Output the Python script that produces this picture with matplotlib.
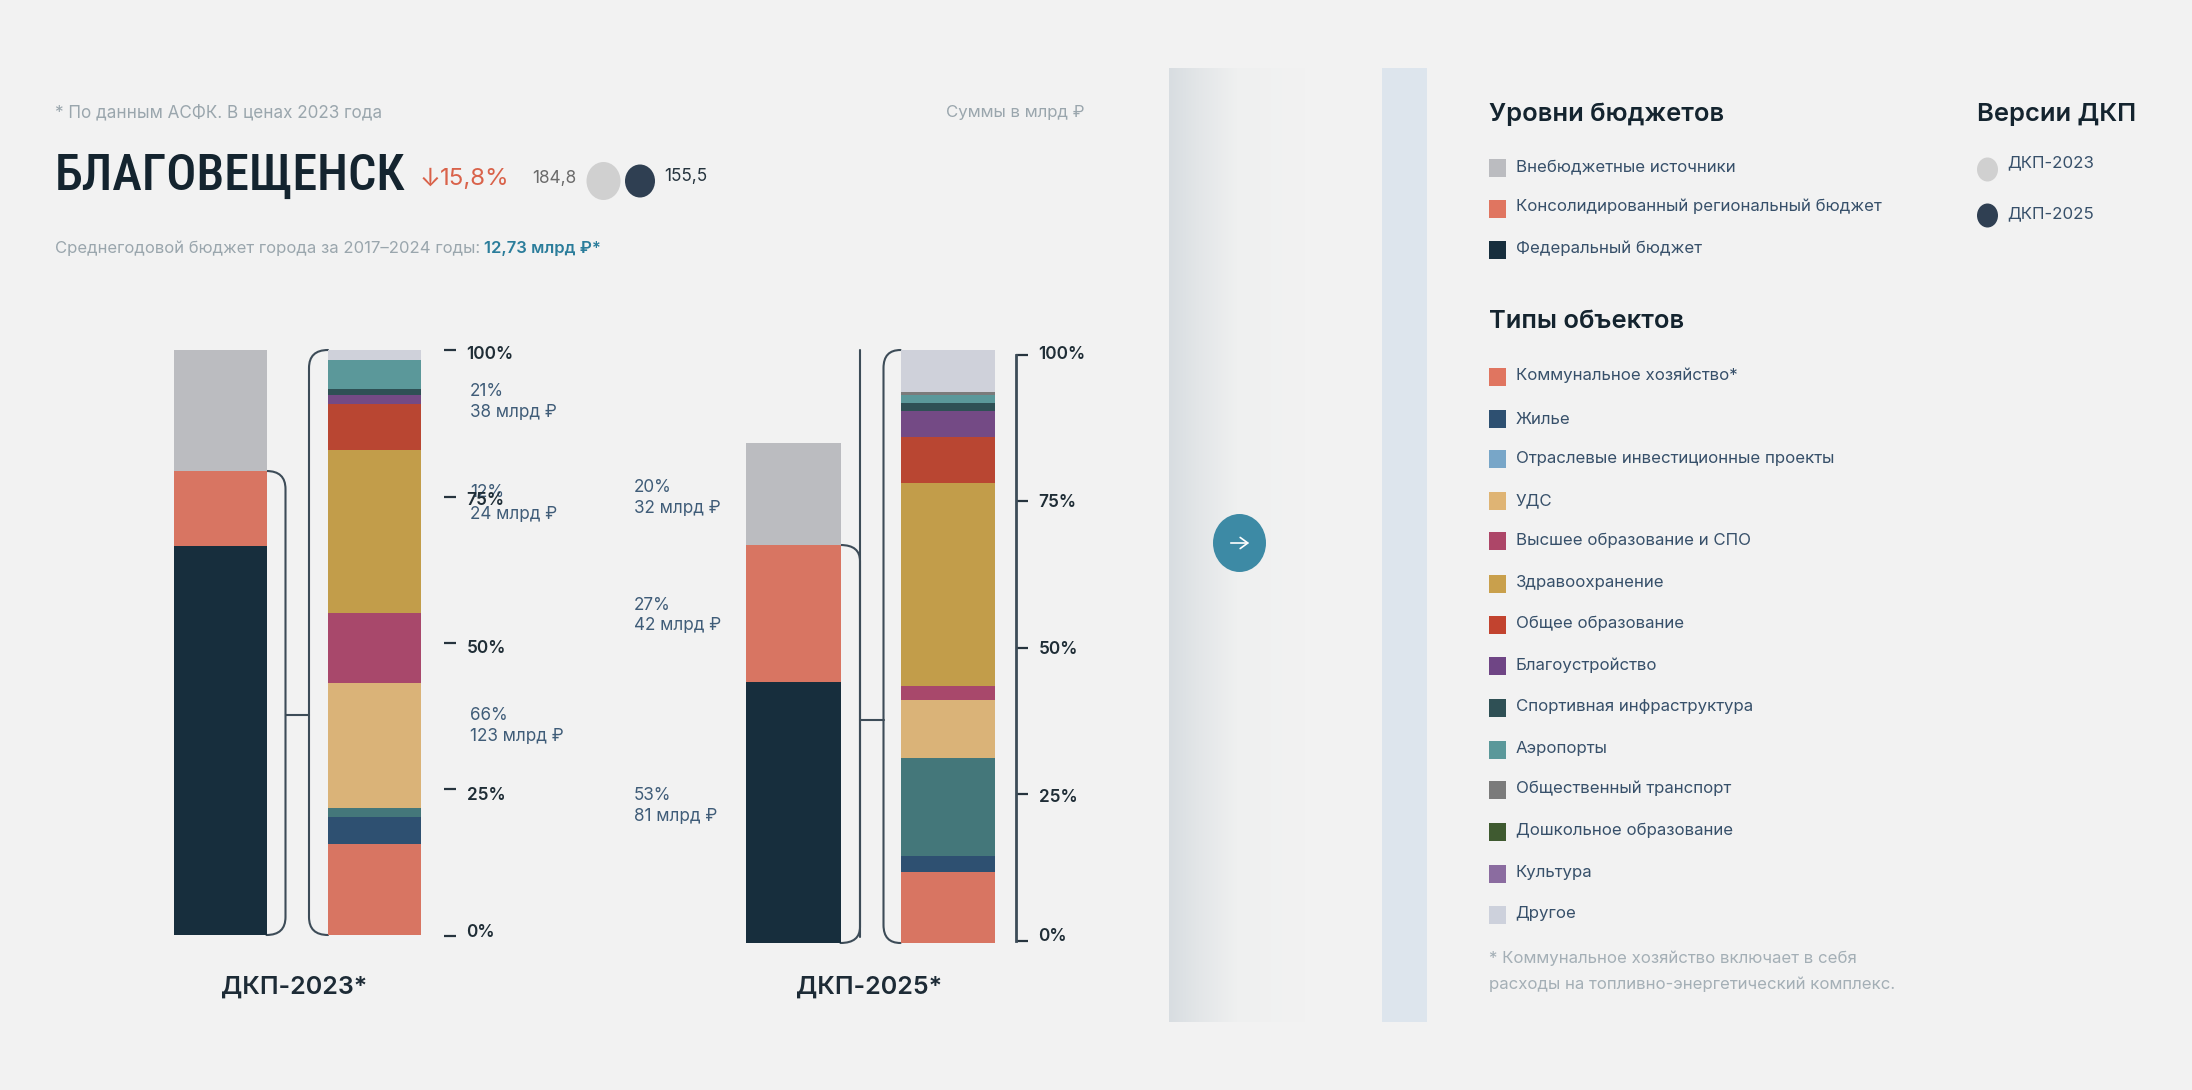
import matplotlib
matplotlib.use("Agg")
import matplotlib.pyplot as plt
import numpy as np
from matplotlib.colors import LinearSegmentedColormap
from matplotlib.patches import Rectangle, Ellipse, PathPatch
from matplotlib.path import Path
from matplotlib.transforms import ScaledTranslation

W, H, DPI = 2192, 1090, 100
BG = "#f2f2f2"
FONT = ["Inter", "DejaVu Sans"]
NARROW = ["Roboto Condensed", "Inter", "DejaVu Sans"]
plt.rcParams["font.family"] = FONT

# ---------- data ----------
budget_levels = ["Федеральный бюджет", "Консолидированный региональный бюджет", "Внебюджетные источники"]
budget_colors = ["#172e3d", "#d87562", "#bbbcc0"]
budget_2023 = [122.8, 23.6, 38.4]
budget_2025 = [81.4, 42.5, 31.6]
budget_labels_2023 = [("66%", "123 млрд ₽"), ("12%", "24 млрд ₽"), ("21%", "38 млрд ₽")]
budget_labels_2025 = [("53%", "81 млрд ₽"), ("27%", "42 млрд ₽"), ("20%", "32 млрд ₽")]

objects_2023 = ["Коммунальное хозяйство*", "Жилье", "Отраслевые*", "УДС", "Высшее образование и СПО",
                "Здравоохранение", "Общее образование", "Благоустройство", "Спортивная инфраструктура",
                "Аэропорты", "Другое"]
shares_2023 = [15.56, 4.67, 1.48, 21.4, 11.93, 27.78, 7.93, 1.48, 0.96, 5.04, 1.77]
colors_2023 = ["#d87562", "#2e5071", "#44777a", "#dab378", "#a8486b", "#c29d4a", "#b94632", "#744a85",
               "#2f5055", "#5b989a", "#cfd1da"]

objects_2025 = ["Коммунальное хозяйство*", "Жилье", "Отраслевые*", "УДС", "Высшее образование и СПО",
                "Здравоохранение", "Общее образование", "Благоустройство", "Спортивная инфраструктура",
                "Аэропорты", "Общественный транспорт", "Другое"]
shares_2025 = [11.98, 2.70, 16.44, 9.86, 2.34, 34.26, 7.6, 4.53, 1.31, 1.31, 0.51, 7.16]
colors_2025 = ["#d87562", "#2e5071", "#44777a", "#dab378", "#a8486b", "#c29d4a", "#b94632", "#744a85",
               "#2f5055", "#5b989a", "#7b7b7b", "#cfd1da"]

percent_ticks = [0, 25, 50, 75, 100]
percent_labels = ["0%", "25%", "50%", "75%", "100%"]

legend_levels = ["Внебюджетные источники", "Консолидированный региональный бюджет", "Федеральный бюджет"]
legend_level_colors = ["#bbbcc0", "#e07560", "#172e3d"]
legend_types = ["Коммунальное хозяйство*", "Жилье", "Отраслевые инвестиционные проекты", "УДС",
                "Высшее образование и СПО", "Здравоохранение", "Общее образование", "Благоустройство",
                "Спортивная инфраструктура", "Аэропорты", "Общественный транспорт", "Дошкольное образование",
                "Культура", "Другое"]
legend_type_colors = ["#e07560", "#2e5071", "#78a6c8", "#dfb474", "#ad4668", "#c9a04c", "#c2432f", "#6f4585",
                      "#2f5055", "#5b989a", "#7b7b7b", "#3f5a30", "#8b6ca0", "#cdd1dc"]
legend_versions = ["ДКП-2023", "ДКП-2025"]
legend_version_colors = ["#d0d0d0", "#2f3f52"]

# ---------- figure ----------
fig = plt.figure(figsize=(W / DPI, H / DPI), dpi=DPI, facecolor=BG)
ov = fig.add_axes([0, 0, 1, 1], zorder=0)
ov.set_xlim(0, W)
ov.set_ylim(H, 0)
ov.axis("off")


def px_axes(x0, x1, ytop, ybot, z=2):
    return fig.add_axes([x0 / W, 1 - ybot / H, (x1 - x0) / W, (ybot - ytop) / H], zorder=z, facecolor="none")


def stack(x0, x1, ytop, ybot, values, colors):
    ax = px_axes(x0, x1, ytop, ybot)
    bottom = 0
    for v, c in zip(values, colors):
        ax.bar(0, v, bottom=bottom, width=1, color=c, linewidth=0)
        bottom += v
    ax.set_xlim(-0.5, 0.5)
    ax.set_ylim(0, bottom)
    ax.axis("off")
    return ax


stack(173.5, 266.5, 349.5, 935, budget_2023, budget_colors)
stack(328, 420.5, 349.5, 935, shares_2023, colors_2023)
stack(745.5, 840.5, 443.5, 943, budget_2025, budget_colors)
stack(900.5, 994.5, 349.5, 943, shares_2025, colors_2025)


def tick_axis(x, ytop, ybot, show_spine, dys):
    ax = px_axes(x - 1, x, ytop, ybot)
    ax.set_xlim(0, 1)
    ax.set_ylim(0, 100)
    for s in ("left", "top", "bottom"):
        ax.spines[s].set_visible(False)
    ax.spines["right"].set_visible(show_spine)
    ax.spines["right"].set_color("#3d4c58")
    ax.spines["right"].set_linewidth(2)
    ax.xaxis.set_visible(False)
    ax.yaxis.tick_right()
    ax.set_yticks(percent_ticks)
    ax.set_yticklabels(percent_labels)
    ax.tick_params(axis="y", length=8.6, width=1.6, color="#26343e", pad=7.6,
                   labelsize=12.4, labelcolor="#1f2d36")
    for lab, dy in zip(ax.get_yticklabels(), dys):
        lab.set_fontweight(600)
        lab.set_transform(lab.get_transform() + ScaledTranslation(0, -dy / DPI, fig.dpi_scale_trans))


tick_axis(444, 350.4, 935.8, False, [-5, 4, 3, 1.5, 2])
tick_axis(1016, 354.7, 940.6, True, [-6, 1, 0, -1, -2])

# panels
grad = np.linspace(0, 1, 256).reshape(1, -1)
cm = LinearSegmentedColormap.from_list("g", [(0, "#d8dde1"), (0.22, "#e3e6e8"), (0.5, "#eff0f0"), (1, BG)])
ov.imshow(grad, extent=(1169, 1305, 1022, 68), cmap=cm, aspect="auto", zorder=1)
ov.set_xlim(0, W)
ov.set_ylim(H, 0)
ov.add_patch(Rectangle((1381.5, 68), 45, 954, color="#dde5ed", lw=0, zorder=1))
ov.add_patch(Ellipse((1239.5, 543), 53, 58, color="#3d8aa5", lw=0, zorder=2))
ov.annotate("", xy=(1252, 543), xytext=(1228, 543),
            arrowprops=dict(arrowstyle="->,head_length=0.55,head_width=0.4", color="white", lw=1.2), zorder=3)

# brackets
LINE = "#3d4c58"
LW = 1.5


def draw_path(verts, codes):
    ov.add_patch(PathPatch(Path(verts, codes), fill=False, ec=LINE, lw=LW, zorder=3, capstyle="round"))


def bracket(x_bar, x_line, ytop, ybot, r=18):
    verts = [(x_bar, ytop), (x_line, ytop), (x_line, ytop + r), (x_line, ybot - r), (x_line, ybot), (x_bar, ybot)]
    codes = [Path.MOVETO, Path.CURVE3, Path.CURVE3, Path.LINETO, Path.CURVE3, Path.CURVE3]
    draw_path(verts, codes)


bracket(266.5, 285.5, 471, 935)
bracket(328, 309, 350, 935)
draw_path([(285.5, 714.5), (309, 714.5)], [Path.MOVETO, Path.LINETO])

draw_path([(860, 349.5), (860, 937)], [Path.MOVETO, Path.LINETO])
bracket(840.5, 860, 545, 943, r=16)
bracket(900.5, 883.5, 350, 943)
draw_path([(860, 719.5), (883.5, 719.5)], [Path.MOVETO, Path.LINETO])


def T(x, y, s, size, color, weight=400, ha="left", family=None, va="center"):
    return ov.text(x, y, s, fontsize=size, color=color, fontweight=weight, ha=ha, va=va,
                   family=family or FONT, zorder=5)


# header
T(55, 113, "* По данным АСФК. В ценах 2023 года", 12.3, "#9aa6ad")
T(1085, 113, "Суммы в млрд ₽", 12.1, "#9aa6ad", ha="right")
T(55, 176, "БЛАГОВЕЩЕНСК", 36, "#14242f", weight=500, family=NARROW)
T(420, 179, "↓", 18, "#d9624a")
T(440, 179, "15,8%", 17.3, "#d9624a")
T(532, 178.5, "184,8", 12.4, "#6b6b6b")
ov.add_patch(Ellipse((603.5, 181), 34, 38, color="#d0d0d0", lw=0, zorder=3))
ov.add_patch(Ellipse((640, 181), 30, 33, color="#2f3f52", lw=0, zorder=3))
T(664.5, 176.5, "155,5", 12.4, "#26343e")
T(55, 248, "Среднегодовой бюджет города за 2017–2024 годы:", 12, "#9aa6ad")
T(484, 248, "12,73 млрд ₽*", 12, "#2b7d9b", weight=600)

# value labels
LBL = "#3f5c78"
for (a, b), (y1, y2) in zip(budget_labels_2023, [(715.5, 736.5), (492.5, 515), (392, 412)]):
    T(470, y1, a, 12.3, LBL)
    T(470, y2, b, 12.3, LBL)
for (a, b), (y1, y2) in zip(budget_labels_2025, [(795.5, 816), (605.5, 625.5), (487.5, 508.5)]):
    T(633.5, y1, a, 12.3, LBL)
    T(633.5, y2, b, 12.3, LBL)

T(294.5, 987, "ДКП-2023*", 18, "#1d2b36", weight=600, ha="center")
T(869, 987, "ДКП-2025*", 18, "#1d2b36", weight=600, ha="center")

# legends
HEAD = "#14242f"
ITEM = "#37506a"
T(1489, 114, "Уровни бюджетов", 18.4, HEAD, weight=600)
T(1977, 114, "Версии ДКП", 18.4, HEAD, weight=600)
T(1489, 321, "Типы объектов", 18.4, HEAD, weight=600)

level_sq = [167.5, 209, 250]
level_tx = [167.5, 206.5, 248]
for name, col, ys, yt in zip(legend_levels, legend_level_colors, level_sq, level_tx):
    ov.add_patch(Rectangle((1489, ys - 9), 17, 18, color=col, lw=0, zorder=3))
    T(1515.5, yt, name, 12.15, ITEM)

type_sq = [376.5, 418.5, 458.5, 500.5, 540.5, 583.5, 624.5, 666, 707.5, 749.5, 790, 831.5, 873.5, 915]
type_tx = [375.5, 419, 458.5, 500.5, 540.5, 582.5, 623.5, 665, 706, 748, 788.5, 830, 872, 913.5]
for name, col, ys, yt in zip(legend_types, legend_type_colors, type_sq, type_tx):
    ov.add_patch(Rectangle((1489, ys - 9), 17, 18, color=col, lw=0, zorder=3))
    T(1515.5, yt, name, 12.15, ITEM)

for name, col, yc, yt in zip(legend_versions, legend_version_colors, [169.5, 215.5], [162.5, 213.5]):
    ov.add_patch(Ellipse((1987.5, yc), 21, 24, color=col, lw=0, zorder=3))
    T(2007, yt, name, 12.15, ITEM)

T(1489, 958, "* Коммунальное хозяйство включает в себя", 12.1, "#a4afb6")
T(1489, 984, "расходы на топливно-энергетический комплекс.", 12.1, "#a4afb6")

fig.savefig("out.png", dpi=DPI, facecolor=BG)
